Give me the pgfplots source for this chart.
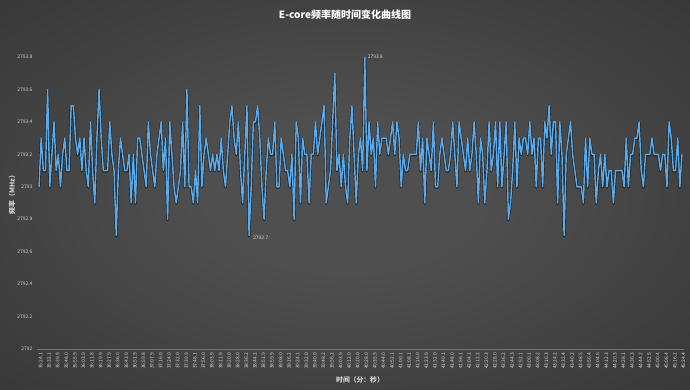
\documentclass[border=0pt]{standalone}
\usepackage{fontspec}
\setmainfont{Noto Sans CJK SC}
\usepackage{pgfplots}
\usepackage{pgfplotstable}
\pgfplotsset{compat=1.18}
\definecolor{bgin}{HTML}{4F4F4F}
\definecolor{bgout}{HTML}{2B2B2B}
\definecolor{bgcorner}{HTML}{1C1C1C}
\definecolor{lineblue}{HTML}{5AA9EA}
\definecolor{lbl}{HTML}{D6D6D6}
\pgfdeclareradialshading{bgshade}{\pgfpoint{0bp}{0bp}}{color(0bp)=(bgin); color(10bp)=(bgin); color(50bp)=(bgout); color(72bp)=(bgcorner)}
\pgfplotstableread[row sep=\\]{
f\\
2793.0\\2793.3\\2793.1\\2793.1\\2793.6\\2793.0\\2793.2\\2793.4\\2793.1\\2793.2\\
2793.0\\2793.2\\2793.3\\2793.1\\2793.1\\2793.5\\2793.5\\2793.3\\2793.2\\2793.3\\
2793.1\\2793.3\\2793.1\\2793.0\\2793.4\\2793.1\\2792.9\\2793.3\\2793.6\\2793.3\\
2793.1\\2793.1\\2793.1\\2793.4\\2793.2\\2793.1\\2792.7\\2793.1\\2793.3\\2793.2\\
2793.1\\2793.1\\2793.2\\2792.9\\2793.2\\2792.9\\2793.3\\2793.3\\2793.2\\2793.1\\
2793.0\\2793.4\\2793.2\\2793.1\\2793.0\\2793.2\\2793.3\\2793.4\\2793.1\\2793.3\\
2792.8\\2793.4\\2793.2\\2793.0\\2792.9\\2793.0\\2793.1\\2793.4\\2793.0\\2793.6\\
2793.0\\2793.0\\2792.9\\2793.1\\2792.9\\2793.5\\2793.0\\2793.2\\2793.3\\2793.2\\
2793.1\\2793.2\\2793.1\\2793.2\\2793.1\\2793.3\\2793.1\\2793.0\\2793.2\\2793.4\\
2793.5\\2793.3\\2793.2\\2793.4\\2793.1\\2792.9\\2793.2\\2793.5\\2792.7\\2793.0\\
2793.4\\2793.4\\2793.5\\2793.3\\2793.0\\2792.8\\2793.1\\2793.3\\2793.2\\2793.2\\
2793.4\\2793.0\\2793.0\\2793.3\\2793.2\\2793.1\\2793.1\\2793.0\\2793.2\\2792.8\\
2793.4\\2793.3\\2792.9\\2793.3\\2793.2\\2793.2\\2792.9\\2793.2\\2793.2\\2793.4\\
2793.2\\2793.3\\2793.4\\2793.5\\2792.9\\2793.0\\2793.1\\2793.4\\2793.7\\2793.1\\
2793.2\\2793.0\\2793.2\\2793.0\\2792.9\\2793.3\\2793.5\\2793.2\\2792.9\\2793.2\\
2793.3\\2793.1\\2793.8\\2793.1\\2793.4\\2793.2\\2793.3\\2793.0\\2793.4\\2793.2\\
2793.3\\2793.3\\2793.3\\2793.2\\2793.3\\2793.4\\2793.2\\2793.4\\2793.3\\2793.0\\
2793.2\\2793.1\\2793.1\\2793.2\\2793.2\\2793.2\\2793.2\\2793.4\\2793.1\\2793.3\\
2792.9\\2793.3\\2793.2\\2793.1\\2793.4\\2793.0\\2793.0\\2793.2\\2793.3\\2793.2\\
2793.1\\2793.1\\2793.2\\2793.4\\2793.2\\2793.0\\2793.4\\2793.3\\2793.2\\2793.1\\
2793.3\\2793.1\\2793.2\\2793.4\\2793.2\\2792.9\\2793.3\\2793.2\\2792.9\\2793.1\\
2793.4\\2793.1\\2793.2\\2793.4\\2793.0\\2793.4\\2793.0\\2793.2\\2793.4\\2792.8\\
2792.9\\2793.1\\2793.4\\2793.0\\2793.3\\2793.2\\2793.3\\2793.3\\2793.2\\2793.4\\
2793.2\\2793.3\\2793.0\\2793.3\\2793.3\\2793.0\\2793.4\\2793.3\\2793.5\\2793.2\\
2793.4\\2793.4\\2792.9\\2793.4\\2793.2\\2792.7\\2793.2\\2793.3\\2793.4\\2793.2\\
2793.1\\2793.0\\2793.0\\2793.0\\2792.9\\2793.3\\2793.0\\2793.3\\2793.2\\2793.2\\
2792.9\\2793.1\\2793.2\\2793.0\\2793.2\\2793.0\\2793.1\\2793.1\\2792.9\\2793.1\\
2793.1\\2793.1\\2793.1\\2793.0\\2793.3\\2793.0\\2793.2\\2793.2\\2793.3\\2793.3\\
2793.4\\2793.1\\2793.0\\2793.2\\2793.2\\2793.2\\2793.3\\2793.2\\2793.2\\2793.2\\
2793.1\\2793.2\\2793.2\\2793.0\\2793.4\\2793.3\\2793.1\\2793.1\\2793.3\\2793.0\\
2793.2\\
}\freq
\begin{document}
\begin{tikzpicture}[x=1pt,y=1pt]
\useasboundingbox (0,0) rectangle (690,389);
\shade[shading=bgshade] (0,0) rectangle (690,389);
\begin{axis}[
  at={(36.9pt,40pt)}, anchor=south west,
  scale only axis, width=647.2pt, height=292pt,
  xmin=-1, xmax=301, ymin=2792, ymax=2793.8,
  axis x line*=bottom, axis y line*=left,
  x axis line style={draw=white!45!black, line width=0.6pt, -},
  y axis line style={draw=none},
  major tick length=0pt,
  clip=false,
  /pgf/number format/assume math mode=true,
  ytick={2792,2792.2,2792.4,2792.6,2792.8,2793,2793.2,2793.4,2793.6,2793.8},
  yticklabels={2792,2792.2,2792.4,2792.6,2792.8,2793,2793.2,2793.4,2793.6,2793.8},
  yticklabel style={font=\fontsize{4.9}{5}\selectfont, text=lbl, anchor=east, xshift=-1pt},
  xtick={0,4,...,300},
  xticklabels={35:24.1,35:32.1,35:39.9,35:48.0,35:55.9,36:03.9,36:11.8,36:19.9,36:27.9,36:36.0,36:43.9,36:51.9,36:59.8,37:07.9,37:16.0,37:24.0,37:32.0,37:39.9,37:48.1,37:56.0,38:03.9,38:11.9,38:20.0,38:28.0,38:36.2,38:44.1,38:51.9,38:59.9,39:08.0,39:16.2,39:24.1,39:32.0,39:40.0,39:48.2,39:56.2,40:03.9,40:12.0,40:20.0,40:28.0,40:35.9,40:44.0,40:52.1,41:00.1,41:08.1,41:16.0,41:23.9,41:32.0,41:40.1,41:48.0,41:56.1,42:04.1,42:12.2,42:20.3,42:28.0,42:36.2,42:44.3,42:52.1,43:00.1,43:08.2,43:16.3,43:24.2,43:32.4,43:40.2,43:48.5,43:56.4,44:04.6,44:12.3,44:20.3,44:28.1,44:36.3,44:44.2,44:52.5,45:00.4,45:08.4,45:16.2,45:24.4},
  xticklabel style={font=\fontsize{4.9}{5}\selectfont, text=lbl, rotate=90, anchor=east, xshift=0pt, yshift=-1.5pt},
]
\addplot[black, opacity=0.55, line width=2.7pt, yshift=-0.6pt, line join=round] table[x expr=\coordindex, y=f] {\freq};
\addplot[lineblue, line width=1.45pt, line join=round] table[x expr=\coordindex, y=f] {\freq};
\node[anchor=west, font=\fontsize{4.9}{5}\selectfont, text=lbl, inner sep=0pt] at (axis cs:152,2793.8) [xshift=3pt] {2793.8};
\node[anchor=west, font=\fontsize{4.9}{5}\selectfont, text=lbl, inner sep=0pt] at (axis cs:98,2792.7) [xshift=4pt, yshift=-2pt] {2792.7};
\end{axis}
\node[font=\fontsize{10}{12}\selectfont\bfseries, text=white] at (345,374) {E-core频率随时间变化曲线图};
\node[font=\fontsize{6.8}{8}\selectfont\bfseries, text=lbl, rotate=90] at (12,196) {频率（MHz）};
\node[font=\fontsize{6.8}{8}\selectfont\bfseries, text=lbl] at (360,9) {时间（分：秒）};
\end{tikzpicture}
\end{document}
